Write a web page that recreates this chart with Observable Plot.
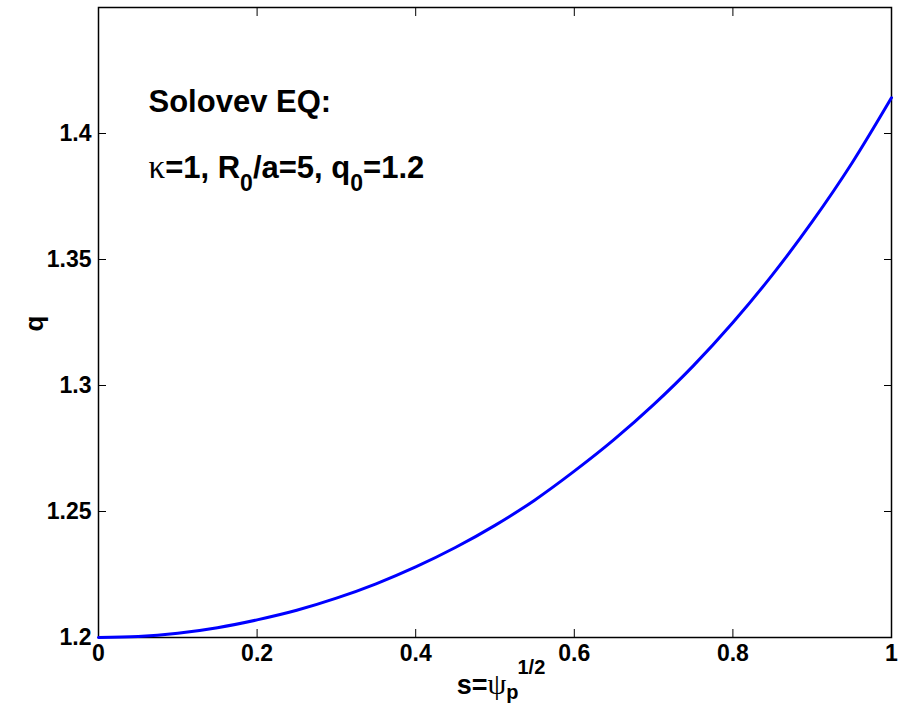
<!DOCTYPE html>
<html>
<head>
<meta charset="utf-8">
<script src="https://cdn.jsdelivr.net/npm/d3@7"></script>
<script src="https://cdn.jsdelivr.net/npm/@observablehq/plot@0.6"></script>
<style>
  html, body { margin: 0; padding: 0; background: #fff; }
  #chart svg { display: block; }
</style>
</head>
<body>
<div id="chart"></div>
<script>
// ---- data ----
const sValues = [0, 0.05, 0.1, 0.15, 0.2, 0.25, 0.3, 0.35, 0.4, 0.45, 0.5,
                 0.55, 0.6, 0.65, 0.7, 0.75, 0.8, 0.85, 0.9, 0.95, 1.0];
const qValues = [1.2, 1.2004, 1.2017, 1.2039, 1.2070, 1.2108, 1.2156, 1.2213, 1.2280, 1.2357, 1.2445,
                 1.2545, 1.2660, 1.2785, 1.2924, 1.3078, 1.3250, 1.3440, 1.3650, 1.3882, 1.4142];
const xTicks = [0, 0.2, 0.4, 0.6, 0.8, 1];
const yTicks = [1.2, 1.25, 1.3, 1.35, 1.4];
const xLabel = "s=ψp1/2";
const yLabel = "q";
const title1 = "Solovev EQ:";
const title2 = "κ=1, R0/a=5, q0=1.2";

const rows = sValues.map((s, i) => ({s, q: qValues[i]}));
const FONT = "'Liberation Sans', Arial, Helvetica, sans-serif";
const SERIF = "'Liberation Serif', 'DejaVu Serif', serif";

const chart = Plot.plot({
  width: 899,
  height: 704,
  marginLeft: 98,
  marginRight: 8,
  marginTop: 7,
  marginBottom: 67,
  style: {fontFamily: FONT, fontWeight: "bold", background: "#fff", color: "#000", overflow: "visible"},
  x: {domain: [0, 1]},
  y: {domain: [1.2, 1.45]},
  marks: [
    Plot.axisX(xTicks, {anchor: "bottom", tickSize: -8, tickPadding: 15, tickFormat: d => String(d), label: null, fontSize: 23, fontWeight: "bold"}),
    Plot.axisX(xTicks, {anchor: "top", tickSize: -8, tickFormat: () => "", label: null}),
    Plot.axisY(yTicks, {anchor: "left", tickSize: -8, tickPadding: 15, tickFormat: d => String(d), label: null, fontSize: 23, fontWeight: "bold"}),
    Plot.axisY(yTicks, {anchor: "right", tickSize: -8, tickFormat: () => "", label: null}),
    Plot.frame({stroke: "#000", strokeWidth: 1.5}),
    Plot.line(rows, {x: "s", y: "q", stroke: "#0000ff", strokeWidth: 3, curve: "monotone-x"}),
    Plot.text([title1], {frameAnchor: "top-left", dx: 50, dy: 104, text: d => d, textAnchor: "start", lineAnchor: "bottom", fontSize: 31, fontWeight: "bold", fill: "#000"}),
    Plot.text([title2], {frameAnchor: "top-left", dx: 50, dy: 170, text: d => d, textAnchor: "start", lineAnchor: "bottom", fontSize: 31, fontWeight: "bold", fill: "#000"}),
    Plot.text([xLabel], {frameAnchor: "bottom", dx: 6, dy: 56, text: d => d, textAnchor: "middle", lineAnchor: "bottom", fontSize: 27, fontWeight: "bold", fill: "#000"}),
    Plot.text([yLabel], {frameAnchor: "left", dx: -64, dy: 1, text: d => d, rotate: -90, textAnchor: "middle", fontSize: 26, fontWeight: "bold", fill: "#000"})
  ]
});

document.getElementById("chart").appendChild(chart);

// Rich text (subscripts / superscripts / symbols), still real text
function rich(el, parts) {
  const sel = d3.select(el);
  sel.text("");
  parts.forEach(p => {
    const ts = sel.append("tspan").text(p.t);
    if (p.dx != null) ts.attr("dx", p.dx);
    if (p.dy != null) ts.attr("dy", p.dy);
    if (p.size != null) ts.attr("font-size", p.size);
    if (p.family) ts.attr("font-family", p.family);
    if (p.weight) ts.attr("font-weight", p.weight);
  });
}
d3.select(chart).selectAll("text").each(function() {
  const t = this.textContent;
  if (t === title2) {
    rich(this, [
      {t: "κ", family: SERIF, weight: "normal", size: 33},
      {t: "=1, R"},
      {t: "0", dy: 13, size: 23},
      {t: "/a=5, q", dy: -13},
      {t: "0", dy: 13, size: 23},
      {t: "=1.2", dy: -13}
    ]);
  } else if (t === xLabel) {
    rich(this, [
      {t: "s="},
      {t: "ψ", family: SERIF, weight: "normal", size: 30},
      {t: "p", dy: 5, size: 20},
      {t: "1/2", dx: -1, dy: -25, size: 20}
    ]);
  }
});
</script>
</body>
</html>
